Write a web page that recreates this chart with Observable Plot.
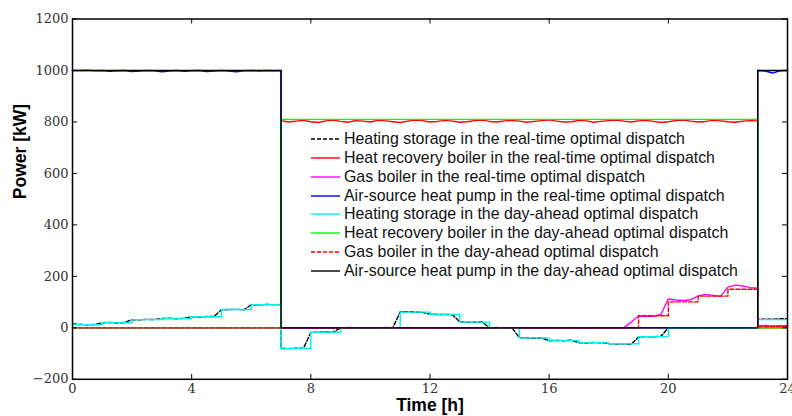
<!DOCTYPE html>
<html><head><meta charset="utf-8">
<script src="https://cdn.jsdelivr.net/npm/d3@7"></script>
<script src="https://cdn.jsdelivr.net/npm/@observablehq/plot@0.6"></script>
<style>
body{margin:0;background:#fff;}
#wrap{position:relative;width:792px;height:416px;}
#legend{position:absolute;left:311px;top:129.6px;font-family:"Liberation Sans",Arial,sans-serif;font-size:15.9px;color:#111;}
.row{display:flex;align-items:center;height:18.86px;white-space:nowrap;}
.row svg{margin-right:4px;}
</style></head>
<body><div id="wrap"><div id="legend"></div></div>
<script>
// ---- categories / labels ----
const seriesNames = [
  "Heating storage in the real-time optimal dispatch",
  "Heat recovery boiler in the real-time optimal dispatch",
  "Gas boiler in the real-time optimal dispatch",
  "Air-source heat pump in the real-time optimal dispatch",
  "Heating storage in the day-ahead optimal dispatch",
  "Heat recovery boiler in the day-ahead optimal dispatch",
  "Gas boiler in the day-ahead optimal dispatch",
  "Air-source heat pump in the day-ahead optimal dispatch"
];
const xTicks = [0,4,8,12,16,20,24];
const yTicks = [-200,0,200,400,600,800,1000,1200];

// ---- day-ahead hourly values (hour 0..23) ----
const daStorage = [12,20,32,36,43,71,90,-80,-17,0,0,61,52,22,0,-39,-49,-58,-62,-34,0,0,0,32];
const daHeatRec = [0,0,0,0,0,0,0,810,810,810,810,810,810,810,810,810,810,810,810,810,810,810,810,0];
const daGas     = [0,0,0,0,0,0,0,0,0,0,0,0,0,0,0,0,0,0,0,47,101,123,150,5];
const daASHP    = [1000,1000,1000,1000,1000,1000,1000,0,0,0,0,0,0,0,0,0,0,0,0,0,0,0,0,1000];

// ---- real-time values, 15-min grid: segment 0-7h (29), 7-23h (65), 23-24h (5) ----
const rtStorage = [
  15,13,12,13, 20,21,19,21, 32,31,33,32, 36,37,35,37, 43,42,44,44, 70,71,72,70, 90,89,91,90, 90,
  -80,-81,-79,-80, -18,-17,-16,-17, 0,1,0,0, 0,0,1,0, 62,63,61,60, 53,52,52,51, 23,22,22,23, 0,1,0,0,
  -38,-39,-40,-39, -50,-49,-50,-48, -58,-59,-57,-58, -61,-63,-62,-64, -36,-34,-35,-33, 0,0,0,0, 0,0,0,0, 0,0,0,0, 0,
  33,34,33,35,35
];
const rtHeatRec = [
  0,0,0,0, 0,0,0,0, 0,0,0,0, 0,0,0,0, 0,0,0,0, 0,0,0,0, 0,0,0,0, 0,
  805,800,803,806,801, 798,804,807,802,799, 805,803,800,806,804, 801,798,803,807,805,
  800,802,806,803,799, 801,805,807,802,800, 804,806,803,799,802, 805,808,803,800,801,
  806,804,799,802,805, 807,803,800,804,806, 802,798,801,805,807, 803,800,802,806,804,
  801,799,803,805,804,
  0,0,0,0,0
];
const rtGas = [
  0,0,0,0, 0,0,0,0, 0,0,0,0, 0,0,0,0, 0,0,0,0, 0,0,0,0, 0,0,0,0, 0,
  0,0,0,0, 0,0,0,0, 0,0,0,0, 0,0,0,0, 0,0,0,0, 0,0,0,0, 0,0,0,0, 0,0,0,0,
  0,0,0,0, 0,0,0,0, 0,0,0,0, 0,0,0,
  22, 46,44,45,52, 112,108,106,109, 124,130,126,122, 158,166,163,156, 155,
  8,9,7,8,8
];
const rtASHP = [
  1000,1000,1001,999, 1000,997,999,1000, 996,998,1000,999, 995,998,1000,997,
  999,1000,996,998, 1000,998,995,999, 1000,998,1000,999, 1000,
  0,0,0,0, 0,0,0,0, 0,0,0,0, 0,0,0,0, 0,0,0,0, 0,0,0,0, 0,0,0,0, 0,0,0,0,
  0,0,0,0, 0,0,0,0, 0,0,0,0, 0,0,0,0, 0,0,0,0, 0,0,0,0, 0,0,0,0, 0,0,0,0, 0,
  1000,998,990,999,1000
];
const rtTime = [...d3.range(0,7.001,0.25), ...d3.range(7,23.001,0.25), ...d3.range(23,24.001,0.25)];
const hours = d3.range(0,25);

const rt = vals => rtTime.map((t,i)=>({t, v: vals[i]}));
const da = vals => hours.map(h=>({t:h, v: vals[Math.min(h,23)]}));

// ---- styles ----
const styles = [
  {stroke:"#000000", dash:"4,2"},
  {stroke:"#ff0000", dash:null},
  {stroke:"#ff00ff", dash:null},
  {stroke:"#0000ff", dash:null},
  {stroke:"#00f0f0", dash:null},
  {stroke:"#00ff00", dash:null},
  {stroke:"#ff0000", dash:"4,2"},
  {stroke:"#000000", dash:null}
];
const datasets = [
  {d: rt(rtStorage), curve:"linear"},
  {d: rt(rtHeatRec), curve:"linear"},
  {d: rt(rtGas), curve:"linear"},
  {d: rt(rtASHP), curve:"linear"},
  {d: da(daStorage), curve:"step-after"},
  {d: da(daHeatRec), curve:"step-after"},
  {d: da(daGas), curve:"step-after"},
  {d: da(daASHP), curve:"step-after"}
];

const W=792, H=416, mL=72, mR=5, mT=18.5, mB=37.2;
const pw=W-mL-mR, ph=H-mT-mB;
const fmt = d => d < 0 ? "\u2212" + Math.abs(d) : String(d);

const chart = Plot.plot({
  width: W, height: H,
  marginLeft: mL, marginRight: mR, marginTop: mT, marginBottom: mB,
  style: {fontFamily:"DejaVu Serif", fontSize:"13px", color:"#333", background:"#fff", overflow:"visible"},
  x: {domain:[0,24]},
  y: {domain:[-200,1200]},
  marks: [
    ...datasets.map((s,i)=>Plot.line(s.d, {x:"t", y:"v", curve:s.curve, stroke:styles[i].stroke, strokeWidth:1.4, strokeDasharray:styles[i].dash})),
    Plot.frame({stroke:"#000", strokeWidth:1.5}),
    Plot.tickY(yTicks, {y:d=>d, insetRight: pw-5, stroke:"#000"}),
    Plot.tickY(yTicks, {y:d=>d, insetLeft: pw-5, stroke:"#000"}),
    Plot.tickX(xTicks, {x:d=>d, insetTop: ph-5, stroke:"#000"}),
    Plot.tickX(xTicks, {x:d=>d, insetBottom: ph-5, stroke:"#000"}),
    Plot.axisY(yTicks, {tickSize:0, tickPadding:4, label:null, tickFormat:fmt}),
    Plot.axisX(xTicks, {tickSize:0, tickPadding:4, label:null, tickFormat:fmt}),
    Plot.text(["Power [kW]"], {frameAnchor:"left", dx:-52, rotate:-90, fontWeight:"bold", fontSize:17.5, fontFamily:"Liberation Sans", fill:"#000"}),
    Plot.text(["Time [h]"], {frameAnchor:"bottom", dy:32, fontWeight:"bold", fontSize:17.5, fontFamily:"Liberation Sans", fill:"#000"})
  ]
});
document.getElementById("wrap").prepend(chart);

// ---- legend ----
const leg = document.getElementById("legend");
seriesNames.forEach((name,i)=>{
  const row = document.createElement("div");
  row.className = "row";
  const st = styles[i];
  row.innerHTML = `<svg width="29" height="6"><line x1="0" y1="3" x2="29" y2="3" stroke="${st.stroke}" stroke-width="1.4" ${st.dash?`stroke-dasharray="${st.dash}"`:""}/></svg><span>${name}</span>`;
  leg.appendChild(row);
});
</script>
</body></html>
